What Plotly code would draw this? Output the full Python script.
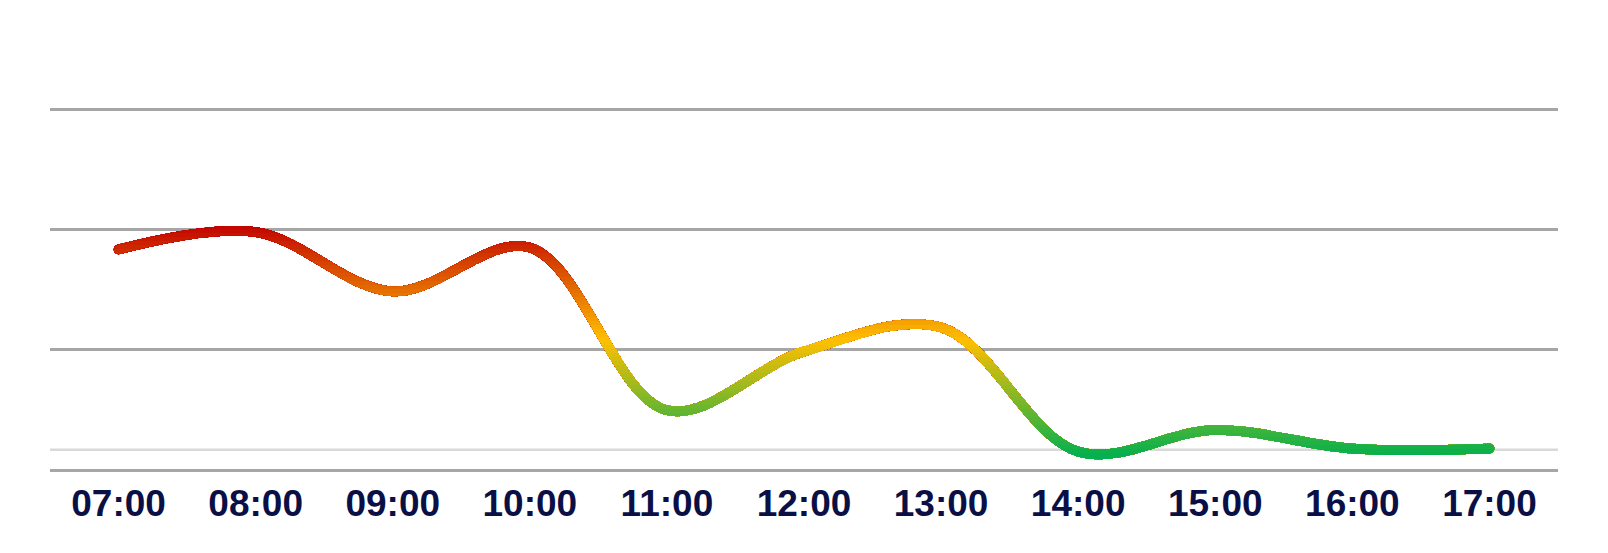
import plotly.graph_objects as go

# ---- data ----
times = ["07:00", "08:00", "09:00", "10:00", "11:00", "12:00",
         "13:00", "14:00", "15:00", "16:00", "17:00"]
values = [18.3, 19.75, 14.8, 18.45, 4.9, 9.8, 11.8, 1.45, 3.25, 1.7, 1.7]
reference_level = 1.6

# ---- style ----
Y_MAX = 30.5          # axis range top (grid lines every 10)
GRID_STEP = 10
GRAD_TOP = 20.5       # value where gradient is dark red
GRAD_BOTTOM = 1.0     # value where gradient is green
STOPS = [(0.0, (0xC0, 0x00, 0x00)), (0.5, (0xFF, 0xC0, 0x00)), (1.0, (0x00, 0xB0, 0x50))]
BAND = 1 / 3          # value height of one colour band
N_BANDS = 91
FIRST_BAND = 4        # bands below this are merged into the lowest one
LINE_W = 9.5
GRID_COLOR = "#A6A6A6"
LABEL_COLOR = "#0A1045"


def grad_color(v):
    t = (GRAD_TOP - v) / (GRAD_TOP - GRAD_BOTTOM)
    t = max(0.0, min(1.0, t))
    for (t0, c0), (t1, c1) in zip(STOPS[:-1], STOPS[1:]):
        if t <= t1:
            f = (t - t0) / (t1 - t0)
            r, g, b = (round(a + (b_ - a) * f) for a, b_ in zip(c0, c1))
            return f"rgb({r},{g},{b})"
    r, g, b = STOPS[-1][1]
    return f"rgb({r},{g},{b})"


fig = go.Figure()
layout_axes = {}
end_sizes = [LINE_W] + [0] * (len(values) - 2) + [LINE_W]
band_ids = list(range(N_BANDS, FIRST_BAND - 1, -1))  # top band drawn first
for k, i in enumerate(band_ids):
    hi = min(BAND * i, Y_MAX)
    mid = BAND * (i - 0.5)
    ax_id = k + 2
    fig.add_trace(go.Scatter(
        x=times, y=values, mode="lines+markers",
        line=dict(color=grad_color(mid), width=LINE_W, shape="spline",
                  smoothing=1, simplify=False),
        marker=dict(size=end_sizes, color=grad_color(mid), line=dict(width=0)),
        xaxis="x", yaxis=f"y{ax_id}", hoverinfo="skip", showlegend=False,
    ))
    layout_axes[f"yaxis{ax_id}"] = dict(
        domain=[0, hi / Y_MAX], range=[0, hi],
        anchor="x", visible=False, showgrid=False, zeroline=False, fixedrange=True,
    )

fig.add_shape(type="line", xref="paper", yref="y", x0=0, x1=1,
              y0=reference_level, y1=reference_level,
              line=dict(color="#D9D9D9", width=2.5), layer="below")

fig.update_layout(
    width=1608, height=553,
    margin=dict(l=42, r=58, t=95, b=92),
    paper_bgcolor="white", plot_bgcolor="rgba(0,0,0,0)",
    showlegend=False,
    xaxis=dict(
        type="category", range=[-0.5, len(times) - 0.5],
        showgrid=False, zeroline=False,
        showline=True, linecolor=GRID_COLOR, linewidth=2.5,
        ticks="", tickfont=dict(family="Liberation Sans", size=37, color=LABEL_COLOR, weight="bold"),
        ticklabelstandoff=0,
    ),
    yaxis=dict(
        range=[0, Y_MAX], dtick=GRID_STEP, tick0=0,
        showgrid=True, gridcolor=GRID_COLOR, gridwidth=2.5,
        zeroline=False, showticklabels=False, ticks="",
    ),
    **layout_axes,
)

fig.write_html("out.html")
